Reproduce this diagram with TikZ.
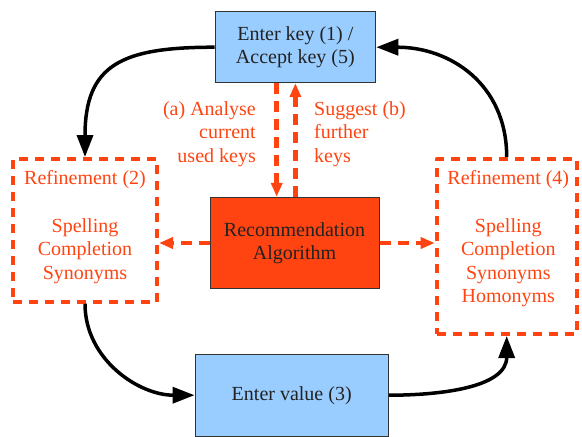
\documentclass[tikz,border=0pt]{standalone}
\usepackage{fontspec}
\setmainfont{Liberation Serif}
\usetikzlibrary{arrows.meta}
\definecolor{orng}{HTML}{FF4411}
\definecolor{lblue}{HTML}{99CCFF}
\definecolor{dkline}{HTML}{333333}
\definecolor{dktext}{HTML}{222222}
\begin{document}
\begin{tikzpicture}[x=1pt,y=1pt,
  every node/.style={inner sep=0pt, font=\fontsize{20}{23.5}\selectfont},
  solidbox/.style={draw=dkline, line width=1pt, rectangle, align=center, text=dktext},
  refbox/.style={draw=orng, line width=4pt, dash pattern=on 9pt off 7pt, rectangle, line join=round},
  reftext/.style={text=orng, align=center, anchor=north},
  lbl/.style={text=orng},
  flow/.style={line width=3.5pt, -{Triangle[length=22pt,width=16pt]}},
  dasharrow/.style={draw=orng, line width=4.5pt, dash pattern=on 11pt off 7pt, -{Triangle[length=14pt,width=11pt]}},
]
\useasboundingbox (0,0) rectangle (582,-437);

\node[solidbox, fill=lblue, minimum width=160.7pt, minimum height=71pt] (top) at (295.4,-47.2) {Enter key (1) /\\Accept key (5)};
\node[solidbox, fill=orng, minimum width=169pt, minimum height=91.4pt] (rec) at (294.5,-243) {Recommendation\\Algorithm};
\node[solidbox, fill=lblue, minimum width=193.3pt, minimum height=81.7pt] (ev) at (291.7,-395.2) {Enter value (3)};
\node[refbox, minimum width=144pt, minimum height=142.7pt] (ref2) at (85,-230.4) {};
\node[refbox, minimum width=140pt, minimum height=175pt] (ref4) at (506.7,-246.5) {};

\node[reftext] (ref2t) at (85,-170.3) {Refinement (2)\\[24pt]Spelling\\Completion\\Synonyms};
\node[reftext] (ref4t) at (508.3,-170.6) {Refinement (4)\\[24pt]Spelling\\Completion\\Synonyms\\Homonyms};

\node[lbl, align=right, anchor=north east] (la) at (256,-101.3) {(a) Analyse\\current\\used keys};
\node[lbl, align=left, anchor=north west] (lb) at (314,-101.3) {Suggest (b)\\further\\keys};

\draw[dasharrow] ([xshift=-18.7pt]top.south) -- ([xshift=-18.7pt]top.south |- rec.north);
\draw[dasharrow] (rec.north -| top.south) -- (top.south);
\draw[dasharrow] (rec.west) -- (rec.west -| ref2.east);
\draw[dasharrow] (rec.east) -- (rec.east -| ref4.west);

\draw[flow] (top.west) to[out=180,in=90,looseness=1.4] (ref2.north);
\draw[flow] (ref4.north) to[out=90,in=0,looseness=1.1] (top.east);
\draw[flow] (ref2.south) to[out=-90,in=180] (ev.west);
\draw[flow] (ev.east) to[out=0,in=-90] (ref4.south);
\end{tikzpicture}
\end{document}
